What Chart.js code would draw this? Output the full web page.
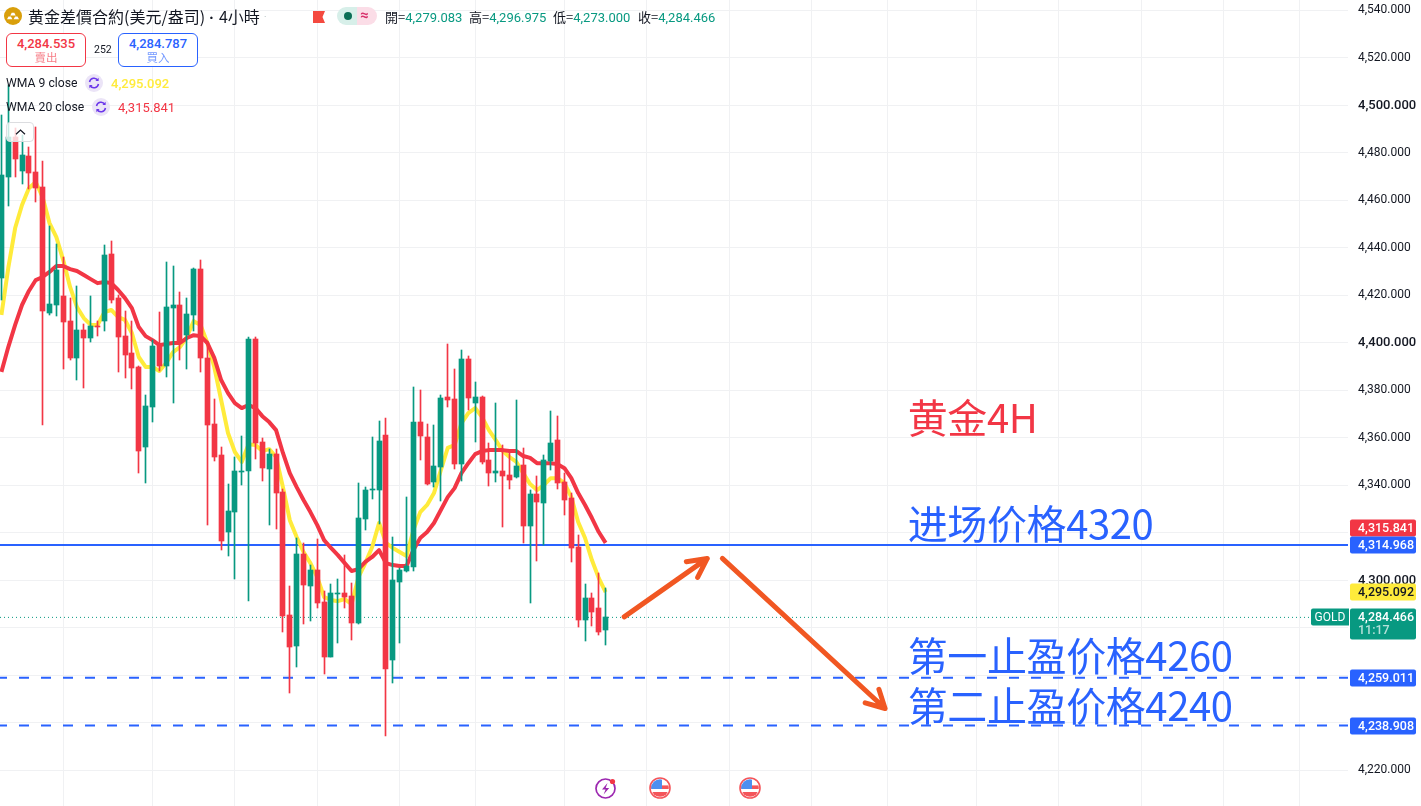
<!DOCTYPE html>
<html lang="zh">
<head>
<meta charset="utf-8">
<title>黄金差價合約 4小時</title>
<script src="https://cdn.jsdelivr.net/npm/chart.js@4"></script>
<style>
html,body{margin:0;padding:0;background:#fff;width:1421px;height:806px;overflow:hidden;font-family:Roboto,"Noto Sans CJK TC",sans-serif;color:#131722}
#c{position:absolute;left:0;top:0;width:1421px;height:806px}
.t{position:absolute;white-space:nowrap;line-height:1}
.box{position:absolute;box-sizing:border-box;border:1px solid;border-radius:6px;background:#fff;width:80px;height:34px;top:33px;text-align:center}
.box b{display:block;font-weight:500;font-size:13px;line-height:13px;margin-top:3px}
.box i{display:block;font-style:normal;font-size:11.5px;line-height:13px;margin-top:1px;font-family:"Noto Sans CJK TC",sans-serif;opacity:.65}
svg{position:absolute;overflow:visible}
.k{font-size:13px;font-family:'Noto Sans CJK TC',sans-serif}
</style>
</head>
<body>
<canvas id="c" width="1421" height="806"></canvas>

<svg style="left:4px;top:7px" width="18" height="18" viewBox="0 0 18 18"><circle cx="9" cy="9" r="9" fill="#d99f0b"/><path d="M3 12.2h5.4L6.9 9.4H4.5zM9.6 12.2H15l-1.5-2.8h-2.4zM6.3 8.6h5.4L10.3 5.8H7.7z" fill="#fff"/></svg>
<div class="t" style="left:28px;top:8px;font-size:16px;font-family:'Noto Sans CJK TC',sans-serif">黄金差價合約(美元/盎司)<span style="margin:0 5px 0 4px;font-family:Roboto;font-weight:700">·</span>4小時</div>
<div class="t" style="left:264px;top:13px;font-size:9px;color:#9aa">·</div>
<svg style="left:313px;top:11px" width="12" height="12" viewBox="0 0 12 12"><path d="M0 0H12L9.5 6 12 12H0z" fill="#f4493f"/></svg>
<div style="position:absolute;left:337px;top:7px;width:20px;height:18px;background:#d7efe9;border-radius:9px 0 0 9px"></div>
<div style="position:absolute;left:357px;top:7px;width:20px;height:18px;background:#fbdde7;border-radius:0 9px 9px 0"></div>
<div style="position:absolute;left:344px;top:12px;width:8px;height:8px;background:#0b6e55;border-radius:50%"></div>
<div class="t" style="left:360px;top:8px;font-size:15px;font-weight:700;color:#d8326c">≈</div>
<div class="t" style="left:385px;top:10px;font-size:13px"><span class="k">開=</span><span style="color:#089981">4,279.083</span></div>
<div class="t" style="left:469px;top:10px;font-size:13px"><span class="k">高=</span><span style="color:#089981">4,296.975</span></div>
<div class="t" style="left:553px;top:10px;font-size:13px"><span class="k">低=</span><span style="color:#089981">4,273.000</span></div>
<div class="t" style="left:638px;top:10px;font-size:13px"><span class="k">收=</span><span style="color:#089981">4,284.466</span></div>

<div class="box" style="left:6px;border-color:#f23645;color:#f23645"><b>4,284.535</b><i>賣出</i></div>
<div class="t" style="left:94px;top:45px;font-size:10.5px">252</div>
<div class="box" style="left:118px;border-color:#2962ff;color:#2962ff"><b>4,284.787</b><i>買入</i></div>

<div class="t" style="left:6px;top:77px;font-size:12.2px">WMA 9 close</div>
<svg style="left:85px;top:74px" width="18" height="18" viewBox="0 0 18 18"><circle cx="9" cy="9" r="9" fill="#ebe4f7"/><path d="M4.5 8a4.6 4.6 0 0 1 8.4-1.6M13.5 10a4.6 4.6 0 0 1-8.4 1.6" fill="none" stroke="#6b36ea" stroke-width="1.5"/><path d="M13.6 3.8v3.2h-3.2zM4.4 14.2V11h3.2z" fill="#6b36ea"/></svg>
<div class="t" style="left:111px;top:77px;font-size:13px;color:#ffeb3b;font-weight:500">4,295.092</div>
<div class="t" style="left:6px;top:101px;font-size:12.2px">WMA 20 close</div>
<svg style="left:92px;top:98px" width="18" height="18" viewBox="0 0 18 18"><circle cx="9" cy="9" r="9" fill="#ebe4f7"/><path d="M4.5 8a4.6 4.6 0 0 1 8.4-1.6M13.5 10a4.6 4.6 0 0 1-8.4 1.6" fill="none" stroke="#6b36ea" stroke-width="1.5"/><path d="M13.6 3.8v3.2h-3.2zM4.4 14.2V11h3.2z" fill="#6b36ea"/></svg>
<div class="t" style="left:118px;top:101px;font-size:13px;color:#f23645">4,315.841</div>

<div style="position:absolute;left:6px;top:122px;width:28px;height:20px;box-sizing:border-box;border:1px solid #dcdde0;border-radius:4px;background:rgba(255,255,255,.78)"></div>
<svg style="left:15px;top:129px" width="11" height="6" viewBox="0 0 11 6"><path d="M1 5.2 5.5 1 10 5.2" fill="none" stroke="#131722" stroke-width="1.2"/></svg>

<svg style="left:595px;top:778px" width="22" height="22" viewBox="0 0 22 22"><circle cx="10.5" cy="10.5" r="9.5" fill="#fff" stroke="#9c27b0" stroke-width="1.7"/><path d="M12.5 5 7 11.5h3.6L8.6 16.5l5.6-6.6h-3.5z" fill="#9c27b0"/><circle cx="17.5" cy="3.5" r="2.6" fill="#f23645"/></svg>
<svg style="left:649px;top:777px" width="22" height="22" viewBox="0 0 22 22"><defs><clipPath id="fc"><circle cx="11" cy="11" r="8.8"/></clipPath></defs><circle cx="11" cy="11" r="10" fill="#fff" stroke="#f4555a" stroke-width="1.6"/><g clip-path="url(#fc)"><rect x="2" y="2" width="18" height="18" fill="#fff"/><rect x="2" y="8.4" width="18" height="3.6" fill="#f4555a"/><rect x="2" y="15" width="18" height="5" fill="#f4555a"/><rect x="2" y="2" width="11" height="10" fill="#4c8ff0"/></g></svg>
<svg style="left:739px;top:777px" width="22" height="22" viewBox="0 0 22 22"><defs><clipPath id="fd"><circle cx="11" cy="11" r="8.8"/></clipPath></defs><circle cx="11" cy="11" r="10" fill="#fff" stroke="#f4555a" stroke-width="1.6"/><g clip-path="url(#fd)"><rect x="2" y="2" width="18" height="18" fill="#fff"/><rect x="2" y="8.4" width="18" height="3.6" fill="#f4555a"/><rect x="2" y="15" width="18" height="5" fill="#f4555a"/><rect x="2" y="2" width="11" height="10" fill="#4c8ff0"/></g></svg>

<script>
const opens=[4427.3,4469.9,4486.7,4472.4,4478.7,4472.0,4465.7,4412.6,4416.0,4419.8,
4409.2,4393.7,4405.4,4402.1,4407.1,4409.2,4437.4,4418.9,4402.9,4395.8,
4389.9,4356.2,4373.0,4398.7,4390.3,4414.7,4416.0,4403.3,4411.8,4431.1,
4393.7,4365.9,4352.8,4320.4,4328.8,4345.7,4346.1,4401.7,4358.3,4346.9,
4353.2,4337.2,4285.4,4272.4,4311.1,4297.7,4304.4,4290.9,4267.8,4294.3,
4294.7,4293.4,4282.1,4325.9,4338.1,4338.1,4361.2,4266.5,4299.3,4304.0,
4305.7,4366.7,4360.4,4341.4,4347.8,4377.2,4376.4,4349.0,4393.2,4374.7,
4377.2,4350.7,4345.2,4346.1,4344.4,4343.6,4348.6,4322.9,4336.4,4332.6,
4350.3,4359.1,4341.4,4334.7,4314.1,4283.3,4292.6,4288.4,4279.083];
const closes=[4470.7,4486.7,4477.4,4479.1,4471.5,4465.2,4413.4,4416.4,4430.7,4408.8,
4393.7,4405.4,4402.1,4407.1,4406.7,4437.0,4418.1,4402.5,4394.9,4389.4,
4354.5,4373.4,4398.7,4390.3,4415.1,4416.0,4400.4,4412.2,4431.1,4393.7,
4365.4,4352.0,4316.6,4329.2,4346.1,4346.1,4401.7,4357.9,4347.3,4353.2,
4336.8,4285.0,4272.0,4311.1,4298.1,4304.4,4290.5,4267.8,4294.7,4294.7,
4293.0,4282.1,4326.3,4338.1,4338.5,4358.7,4262.7,4300.2,4304.4,4306.1,
4366.7,4360.8,4340.6,4348.2,4376.8,4376.0,4349.0,4393.2,4376.8,4377.2,
4349.9,4345.2,4346.1,4344.0,4342.3,4348.2,4322.9,4336.4,4333.0,4350.7,
4357.9,4341.0,4333.9,4313.7,4283.3,4292.6,4286.7,4278.3,4284.466];
const highs=[4496.0,4508.6,4490.5,4487.5,4482.5,4490.9,4476.6,4449.2,4441.7,4436.2,
4418.9,4424.0,4408.0,4419.8,4409.2,4441.2,4442.9,4420.2,4413.4,4409.2,
4390.3,4378.1,4401.2,4413.0,4434.1,4432.4,4421.4,4418.9,4431.6,4434.9,
4400.4,4376.4,4356.2,4340.6,4352.0,4360.8,4402.5,4402.5,4360.0,4355.3,
4355.3,4338.5,4297.7,4317.9,4315.8,4306.5,4317.4,4295.6,4298.5,4300.6,
4310.7,4298.9,4341.0,4339.3,4360.4,4367.1,4368.4,4318.3,4305.2,4335.1,
4381.4,4380.2,4365.9,4365.4,4378.1,4399.6,4389.0,4397.0,4394.5,4383.6,
4377.7,4357.9,4374.7,4357.0,4354.1,4376.0,4355.8,4338.1,4344.0,4352.8,
4371.3,4369.2,4345.2,4336.8,4319.1,4298.5,4294.7,4303.1,4296.975];
const lows=[4418.1,4457.7,4469.9,4466.9,4464.8,4459.3,4365.4,4411.8,4411.3,4389.0,
4392.8,4384.4,4381.0,4400.4,4402.9,4405.0,4416.8,4387.8,4385.2,4380.6,
4345.2,4341.0,4366.7,4388.2,4385.7,4374.7,4392.8,4389.0,4405.0,4387.8,
4323.3,4350.3,4312.8,4310.3,4300.6,4340.2,4291.3,4351.1,4341.9,4323.3,
4321.7,4278.3,4252.6,4263.6,4281.7,4282.9,4288.4,4260.6,4267.8,4273.7,
4288.4,4274.9,4281.7,4321.2,4334.3,4323.8,4234.5,4256.8,4273.7,4303.5,
4304.0,4350.7,4340.2,4339.3,4333.4,4373.0,4346.9,4341.9,4371.8,4358.3,
4349.0,4339.8,4341.4,4322.5,4338.5,4343.1,4315.8,4290.5,4308.2,4314.9,
4346.5,4338.5,4327.6,4307.8,4280.4,4274.5,4280.8,4277.0,4273.000];
const wma9=[4411.8,4431.6,4448.4,4458.1,4465.2,4467.8,4461.4,4450.5,4444.6,4434.9,
4423.6,4415.1,4410.5,4407.6,4407.6,4413.0,4413.9,4410.9,4409.7,4404.2,
4394.1,4389.9,4389.9,4388.2,4391.6,4396.2,4398.3,4402.5,4409.2,4407.6,
4400.0,4389.9,4376.0,4362.1,4354.1,4349.9,4357.4,4357.0,4354.5,4355.3,
4352.0,4339.3,4325.4,4318.3,4312.0,4307.3,4301.4,4293.0,4291.8,4291.3,
4292.2,4290.1,4301.4,4307.3,4314.1,4324.2,4315.8,4313.7,4312.0,4310.3,
4321.2,4328.8,4331.8,4336.8,4346.5,4355.8,4357.0,4366.3,4370.5,4372.6,
4368.8,4363.3,4359.1,4354.5,4352.0,4349.9,4345.2,4340.6,4338.1,4340.2,
4343.1,4343.1,4341.0,4335.1,4324.6,4317.9,4308.6,4301.0,4295.092];
const wma20=[4387.8,4398.3,4407.6,4416.0,4421.9,4426.5,4427.8,4429.9,4432.4,4432.4,
4431.1,4430.3,4428.6,4426.9,4425.2,4425.7,4425.2,4422.3,4418.9,4414.7,
4406.7,4402.9,4401.2,4399.1,4399.6,4400.0,4400.0,4402.1,4403.3,4402.9,
4400.0,4393.7,4384.4,4378.9,4374.7,4372.6,4373.9,4372.6,4369.2,4366.7,
4363.3,4353.7,4345.2,4339.3,4333.9,4328.8,4323.3,4317.0,4313.7,4310.7,
4307.3,4304.0,4304.8,4307.8,4309.9,4312.8,4307.3,4306.5,4306.1,4306.1,
4312.8,4317.9,4320.4,4324.2,4329.7,4335.1,4338.9,4345.2,4349.4,4353.2,
4354.5,4354.9,4354.9,4354.9,4354.5,4354.5,4352.4,4351.6,4349.4,4349.4,
4349.4,4349.0,4347.3,4343.1,4336.8,4331.8,4326.3,4320.4,4315.841];

const priceTicks=[4540,4520,4500,4480,4460,4440,4420,4400,4380,4360,4340,4320,4300,4280,4260,4240,4220];
const coveredTicks=[4320,4280,4260,4240];
const timeGrid=[9,22,34,46,58,69,82,94,106,118,129,142,154,166,178,189];
const entryLine=4314.968, lastPrice=4284.466, tp1Line=4259.011, tp2Line=4238.908;
const wma9Last=4295.092, wma20Last=4315.841;

const arrowUpX=[90.7,102.8,99.75,102.8,101.4];
const arrowUpY=[4284.7,4309.3,4307.9,4309.3,4301.3];
const arrowDownX=[105.0,128.7,125.8,128.7,127.8];
const arrowDownY=[4309.3,4246.1,4248.5,4246.1,4254.2];

const noteTexts=['黄金4H','进场价格4320','第一止盈价格4260','第二止盈价格4240'];
const noteColors=['#F23645','#2962FF','#2962FF','#2962FF'];
const noteX=132.0;
const notePrices=[4362.1,4317.4,4261.8,4240.9];

const GREEN='#089981',RED='#F23645',BLUE='#2962FF',YELLOW='#FFEB3B',ORANGE='#F15722';
const X_MIN=-0.207,X_MAX=196.12,Y_MAX=4544.42,Y_MIN=4205.05;
const idx=opens.map((_,i)=>i);
const col=idx.map(i=>closes[i]>=opens[i]?GREEN:RED);
const pts=(xs,ys)=>xs.map((x,i)=>({x,y:ys[i]}));
const hline=(v,color,width,dash,off,order)=>({type:'line',data:[{x:X_MIN,y:v},{x:X_MAX,y:v}],borderColor:color,borderWidth:width,borderDash:dash,borderDashOffset:off,pointRadius:0,order});
const fmt=v=>v.toLocaleString('en-US',{minimumFractionDigits:3,maximumFractionDigits:3});

const snapPlugin={id:'snap',beforeDatasetsDraw(chart){
  chart.data.datasets.forEach((d,di)=>{
    if(d.type!=='bar')return;
    chart.getDatasetMeta(di).data.forEach(el=>{
      el.x=Math.round(el.x-0.5)+0.5;
      let a=Math.round(el.y),b=Math.round(el.base);
      if(a===b)b=a+1;
      el.y=a;el.base=b;
    });
  });
}};

const tagRows=[
 {v:wma20Last,bg:RED,fg:'#fff',shift:-14.4},
 {v:entryLine,bg:BLUE,fg:'#fff',shift:0},
 {v:wma9Last,bg:YELLOW,fg:'#131722',shift:0},
 {v:tp1Line,bg:BLUE,fg:'#fff',shift:0},
 {v:tp2Line,bg:BLUE,fg:'#fff',shift:0}
];
const rr=(ctx,x,y,w,h,r)=>{ctx.beginPath();ctx.roundRect(x,y,w,h,r);ctx.fill();};
const overlayPlugin={id:'overlay',afterDraw(chart){
  const ctx=chart.ctx,y=chart.scales.y,x=chart.scales.x;
  ctx.save();
  ctx.textBaseline='alphabetic';ctx.textAlign='left';
  ctx.font='400 40px "Noto Sans CJK SC"';
  ctx.letterSpacing='-0.4px';
  noteTexts.forEach((t,i)=>{ctx.fillStyle=noteColors[i];ctx.fillText(t,x.getPixelForValue(noteX),y.getPixelForValue(notePrices[i]));});
  ctx.letterSpacing='0px';
  ctx.textBaseline='middle';
  const left=1350,w=66;
  tagRows.forEach(r=>{
    const c=Math.round(y.getPixelForValue(r.v)+r.shift);
    ctx.fillStyle=r.bg;rr(ctx,left,c-8.5,w,17,[2,2,2,2]);
    ctx.fillStyle=r.fg;ctx.font='500 12.5px Roboto';
    ctx.fillText(fmt(r.v),left+8,c+0.5);
  });
  const c=Math.round(y.getPixelForValue(lastPrice));
  ctx.fillStyle=GREEN;rr(ctx,left,c-8.5,w,31,[2,2,2,2]);
  ctx.fillStyle='#fff';ctx.font='500 12.5px Roboto';ctx.fillText(fmt(lastPrice),left+8,c+0.5);
  ctx.fillStyle='rgba(255,255,255,.7)';ctx.fillText('11:17',left+8,c+13.5);
  ctx.fillStyle=GREEN;rr(ctx,1311,c-8.5,38,17,[2,0,0,2]);
  ctx.fillStyle='#fff';ctx.font='400 12px Roboto';ctx.textAlign='center';ctx.fillText('GOLD',1330,c+0.5);
  ctx.restore();
}};

new Chart(document.getElementById('c'),{
  plugins:[snapPlugin,overlayPlugin],
  data:{datasets:[
    {type:'bar',label:'High-Low',data:idx.map(i=>({x:i,y:[lows[i],highs[i]]})),backgroundColor:col,barThickness:1,grouped:false,borderWidth:0,order:2},
    {type:'bar',label:'Open-Close',data:idx.map(i=>({x:i,y:[opens[i],closes[i]]})),backgroundColor:col,barThickness:5,grouped:false,borderWidth:0,order:1},
    {type:'line',label:'WMA 9 close',data:pts(idx,wma9),borderColor:YELLOW,borderWidth:4,pointRadius:0,tension:0,borderJoinStyle:'round',order:5},
    {type:'line',label:'WMA 20 close',data:pts(idx,wma20),borderColor:RED,borderWidth:4,pointRadius:0,tension:0,borderJoinStyle:'round',order:4},
    Object.assign(hline(entryLine,BLUE,2,[],0,6),{label:'entry'}),
    Object.assign(hline(tp1Line,BLUE,2,[10,12],3,6),{label:'tp1'}),
    Object.assign(hline(tp2Line,BLUE,2,[10,12],3,6),{label:'tp2'}),
    Object.assign(hline(lastPrice,GREEN,1,[1,3],0,7),{label:'last'}),
    {type:'line',label:'up',data:pts(arrowUpX,arrowUpY),borderColor:ORANGE,borderWidth:5,pointRadius:0,tension:0,borderCapStyle:'round',borderJoinStyle:'round',order:0},
    {type:'line',label:'down',data:pts(arrowDownX,arrowDownY),borderColor:ORANGE,borderWidth:5,pointRadius:0,tension:0,borderCapStyle:'round',borderJoinStyle:'round',order:0}
  ]},
  options:{
    responsive:false,animation:false,devicePixelRatio:1,
    layout:{padding:0,autoPadding:false},
    plugins:{legend:{display:false},tooltip:{enabled:false},title:{display:false}},
    scales:{
      x:{type:'linear',offset:false,min:X_MIN,max:X_MAX,border:{display:false},
         grid:{color:'#F0F1F3',lineWidth:1,drawTicks:false,offset:false},
         ticks:{display:false},
         afterBuildTicks:s=>{s.ticks=timeGrid.map(value=>({value}));},
         afterFit:s=>{s.height=0;s.paddingLeft=0;s.paddingRight=0;}},
      y:{type:'linear',position:'right',offset:false,min:Y_MIN,max:Y_MAX,border:{display:false},
         grid:{color:'#F0F1F3',lineWidth:1,drawTicks:false},
         ticks:{padding:10,labelOffset:0,color:'#131722',autoSkip:false,
           font:c=>c.tick&&c.tick.value%100===0?{family:'Roboto',size:13,weight:'500'}:{family:'Roboto',size:12,weight:'400'},
           callback:v=>coveredTicks.includes(v)?'':fmt(v)},
         afterBuildTicks:s=>{s.ticks=priceTicks.map(value=>({value}));},
         afterFit:s=>{s.width=73;s.paddingTop=0;s.paddingBottom=0;}}
    }
  }
});
</script>
</body>
</html>
